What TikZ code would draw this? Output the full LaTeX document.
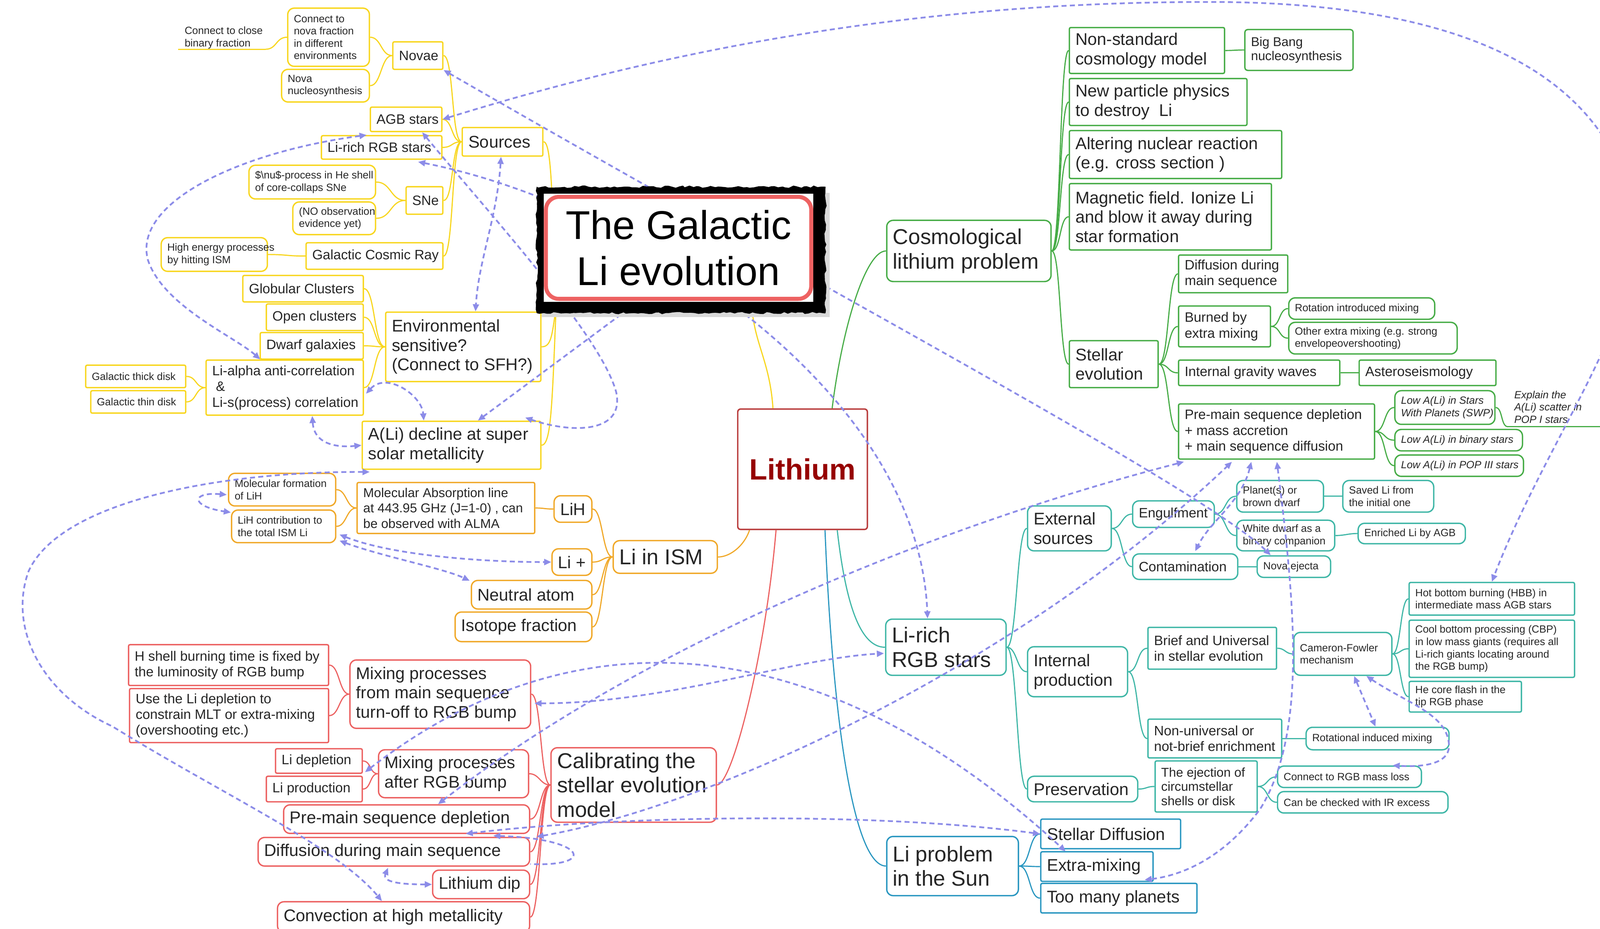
\documentclass[tikz,border=0pt]{standalone}
\usepackage{fontspec}
\setmainfont{Liberation Sans}
\usetikzlibrary{arrows.meta,calc,decorations.pathmorphing}
\pgfdeclarelayer{bg}
\pgfdeclarelayer{fg}
\pgfsetlayers{bg,main,fg}
\definecolor{cY}{RGB}{248,214,30}
\definecolor{cO}{RGB}{240,168,40}
\definecolor{cR}{RGB}{236,96,96}
\definecolor{cG}{RGB}{70,172,70}
\definecolor{cT}{RGB}{62,182,166}
\definecolor{cB}{RGB}{40,150,192}
\definecolor{cD}{RGB}{140,140,232}
\definecolor{txt}{RGB}{38,38,38}
\definecolor{lired}{RGB}{150,0,0}
\definecolor{liborder}{RGB}{185,60,60}
\definecolor{titlered}{RGB}{238,98,98}
\newcommand\fTi{\fontsize{7.3}{8.6}\selectfont}
\newcommand\fSm{\fontsize{8.9}{10}\selectfont}
\newcommand\fMe{\fontsize{9.5}{11}\selectfont}
\newcommand\fLa{\fontsize{11.8}{13.5}\selectfont}
\newcommand\fXl{\fontsize{15}{17}\selectfont}
\newcommand\mbx[7]{%
 \pgfmathsetmacro\bxw{(#5-#3)*0.71132}%
 \pgfmathsetmacro\bxh{(#6-#4)*0.71132}%
 \node[#2,minimum width=\bxw pt,minimum height=\bxh pt,inner sep=0pt] (#1) at ({(#3+#5)/2},{(#4+#6)/2}) {};%
 \node[#2,draw=none,fill=none,anchor=west,align=left,inner sep=0pt] at ($(#1.west)+(6,0)$) {#7};}
\newcommand\conR[4]{\draw[cn,#1] (#2) .. controls +(#4,0) and +(-#4,0) .. (#3);}
\newcommand\conL[4]{\draw[cn,#1] (#2) .. controls +(-#4,0) and +(#4,0) .. (#3);}
\tikzset{
 cn/.style={line width=0.8pt},
 bY/.style={draw=cY,line width=0.95pt,fill=white,text=txt,rounded corners=1pt},
 bO/.style={draw=cO,line width=0.95pt,fill=white,text=txt,rounded corners=1pt},
 bR/.style={draw=cR,line width=0.95pt,fill=white,text=txt,rounded corners=1pt},
 bG/.style={draw=cG,line width=0.95pt,fill=white,text=txt,rounded corners=1pt},
 bT/.style={draw=cT,line width=0.95pt,fill=white,text=txt,rounded corners=1pt},
 bB/.style={draw=cB,line width=0.95pt,fill=white,text=txt,rounded corners=1pt},
 rnd/.style={rounded corners=4.5pt},
 ft/.style={font=\fTi}, fti/.style={font=\fTi\itshape}, fs/.style={font=\fSm},
 fm/.style={font=\fMe}, fl/.style={font=\fLa}, fx/.style={font=\fXl},
 dsh/.style={draw=cD,line width=1.2pt,dash pattern=on 3.5pt off 2.3pt,
   arrows={Triangle[length=5pt,width=4.2pt]-Triangle[length=5pt,width=4.2pt]}},
}
\begin{document}
\begin{tikzpicture}[x=0.025cm,y=-0.025cm]
\useasboundingbox (0,0) rectangle (1568,910.6);
\clip (0,0) rectangle (1568,910.6);
\begin{pgfonlayer}{bg}
\fill[white] (0,0) rectangle (1568,910.6);
\end{pgfonlayer}

% ---------- Lithium ----------
\mbx{lithium}{draw=liborder,line width=1pt,rounded corners=2pt,fill=white}{723}{401}{850}{519}{}
\node[font=\fontsize{20.5}{24}\selectfont\bfseries,text=lired] at (lithium) {Lithium};

% ---------- yellow ----------
\mbx{cclose}{ft,text=txt}{175}{26}{260}{48}{Connect to close\\binary fraction}
\mbx{cnova}{bY,rnd,ft}{282}{8}{362}{65}{Connect to\\nova fraction\\in different\\environments}
\mbx{novanuc}{bY,rnd,ft}{276}{68}{362}{100}{Nova\\nucleosynthesis}
\mbx{novae}{bY,fm}{385}{41}{434}{68}{Novae}
\mbx{agb}{bY,fm}{363}{105}{433}{129}{AGB stars}
\mbx{lirgbY}{bY,fm}{315}{133}{433}{156}{Li-rich RGB stars}
\mbx{sources}{bY,fl}{453}{125}{532}{153}{Sources}
\mbx{nup}{bY,rnd,ft}{244}{162}{368}{195}{\$\textbackslash nu\$-process in He shell\\of core-collaps SNe}
\mbx{noobs}{bY,rnd,ft}{287}{198}{368}{230}{(NO observation\\evidence yet)}
\mbx{sne}{bY,fm}{398}{183}{434}{210}{SNe}
\mbx{hie}{bY,rnd,ft}{158}{233}{262}{266}{High energy processes\\by hitting ISM}
\mbx{gcr}{bY,fm}{300}{238}{434}{264}{Galactic Cosmic Ray}
\mbx{glob}{bY,fm}{238}{270}{356}{296}{Globular Clusters}
\mbx{open}{bY,fm}{261}{298}{356}{324}{Open clusters}
\mbx{dwarf}{bY,fm}{255}{326}{356}{352}{Dwarf galaxies}
\mbx{env}{bY,fl}{378}{306}{530}{374}{Environmental\\sensitive?\\(Connect to SFH?)}
\mbx{thick}{bY,ft}{84}{358}{182}{380}{Galactic thick disk}
\mbx{thin}{bY,ft}{89}{383}{182}{405}{Galactic thin disk}
\mbx{lialpha}{bY,fm}{202}{353}{356}{407}{Li-alpha anti-correlation\\\ \&\\Li-s(process) correlation}
\mbx{adecl}{bY,fl}{355}{413}{530}{460}{A(Li) decline at super\\solar metallicity}

% ---------- orange ----------
\mbx{liism}{bO,rnd,fx}{601}{530}{703}{562}{Li in ISM}
\mbx{lih}{bO,rnd,fl}{543}{486}{580}{512}{LiH}
\mbx{liplus}{bO,rnd,fl}{541}{538}{580}{564}{Li +}
\mbx{neutral}{bO,rnd,fl}{462}{569}{580}{597}{Neutral atom}
\mbx{isotope}{bO,rnd,fl}{446}{600}{580}{629}{Isotope fraction}
\mbx{molabs}{bO,font=\fontsize{9}{10.8}\selectfont}{350}{473}{524}{523}{Molecular Absorption line\\at 443.95 GHz (J=1-0) , can\\be observed with ALMA}
\mbx{molform}{bO,rnd,ft}{224}{464}{329}{496}{Molecular formation\\of LiH}
\mbx{lihcont}{bO,rnd,ft}{227}{500}{329}{532}{LiH contribution to\\the total ISM Li}

% ---------- red ----------
\mbx{calib}{bR,rnd,fx}{540}{733}{702}{806}{Calibrating the\\stellar evolution\\model}
\mbx{mix1}{bR,rnd,fl}{343}{647}{520}{714}{Mixing processes\\from main sequence\\turn-off to RGB bump}
\mbx{hshell}{bR,fm}{126}{632}{322}{672}{H shell burning time is fixed by\\the luminosity of RGB bump}
\mbx{useli}{bR,fm}{127}{675}{322}{728}{Use the Li depletion to\\constrain MLT or extra-mixing\\(overshooting etc.)}
\mbx{mix2}{bR,rnd,fl}{371}{735}{518}{782}{Mixing processes\\after RGB bump}
\mbx{lidep}{bR,fm}{270}{734}{355}{758}{Li depletion}
\mbx{liprod}{bR,fm}{261}{761}{355}{786}{Li production}
\mbx{pmsred}{bR,rnd,fl}{278}{789}{519}{817}{Pre-main sequence depletion}
\mbx{diffred}{bR,rnd,fl}{253}{821}{519}{849}{Diffusion during main sequence}
\mbx{lidip}{bR,rnd,fl}{424}{853}{519}{881}{Lithium dip}
\mbx{conv}{bR,rnd,fl}{272}{884}{519}{914}{Convection at high metallicity}

% ---------- green ----------
\mbx{cosmo}{bG,rnd,fx}{869}{216}{1030}{276}{Cosmological\\lithium problem}
\mbx{nonstd}{bG,fl}{1048}{27}{1200}{72}{Non-standard\\cosmology model}
\mbx{bbn}{bG,fs,rounded corners=2pt}{1220}{29}{1326}{69}{Big Bang\\nucleosynthesis}
\mbx{newpart}{bG,fl}{1048}{77}{1222}{123}{New particle physics\\to destroy\hspace{0.55em}Li}
\mbx{alter}{bG,fl}{1048}{128}{1256}{175}{Altering nuclear reaction\\(e.g. cross section )}
\mbx{magn}{bG,fl}{1048}{180}{1246}{245}{Magnetic field. Ionize Li\\and blow it away during\\star formation}
\mbx{stellev}{bG,fl}{1048}{334}{1135}{380}{Stellar\\evolution}
\mbx{diffgrn}{bG,fm}{1155}{250}{1262}{287}{Diffusion during\\main sequence}
\mbx{burned}{bG,fm}{1155}{300}{1245}{340}{Burned by\\extra mixing}
\mbx{rotint}{bG,rnd,ft}{1263}{292}{1406}{313}{Rotation introduced mixing}
\mbx{otherx}{bG,rnd,ft}{1263}{316}{1428}{347}{Other extra mixing (e.g. strong\\envelopeovershooting)}
\mbx{igw}{bG,fm}{1155}{353}{1313}{378}{Internal gravity waves}
\mbx{astero}{bG,fm}{1332}{353}{1466}{378}{Asteroseismology}
\mbx{pmsgrn}{bG,fm}{1155}{396}{1347}{450}{Pre-main sequence depletion\\+ mass accretion\\+ main sequence diffusion}
\mbx{swp}{bG,rnd,fti}{1367}{383}{1465}{416}{Low A(Li) in Stars\\With Planets (SWP)}
\mbx{binary}{bG,rnd,fti}{1367}{421}{1492}{442}{Low A(Li) in binary stars}
\mbx{pop3}{bG,rnd,fti}{1367}{446}{1493}{467}{Low A(Li) in POP III stars}
\mbx{explain}{fti,text=txt}{1478}{380}{1570}{418}{Explain the\\A(Li) scatter in\\POP I stars}

% ---------- teal ----------
\mbx{lirgbT}{bT,rnd,fx}{868}{607}{986}{662}{Li-rich\\RGB stars}
\mbx{ext}{bT,rnd,fl}{1007}{496}{1089}{540}{External\\sources}
\mbx{intp}{bT,rnd,fl}{1007}{634}{1105}{683}{Internal\\production}
\mbx{pres}{bT,rnd,fl}{1007}{761}{1115}{786}{Preservation}
\mbx{engulf}{bT,rnd,fm}{1110}{491}{1190}{517}{Engulfment}
\mbx{contam}{bT,rnd,fm}{1110}{543}{1213}{568}{Contamination}
\mbx{planet}{bT,rnd,ft}{1212}{471}{1297}{502}{Planet(s) or\\brown dwarf}
\mbx{wd}{bT,rnd,ft}{1212}{510}{1308}{540}{White dwarf as a\\binary companion}
\mbx{saved}{bT,rnd,ft}{1316}{471}{1405}{502}{Saved Li from\\the initial one}
\mbx{enrich}{bT,rnd,ft}{1331}{513}{1436}{533}{Enriched Li by AGB}
\mbx{novaej}{bT,rnd,ft}{1232}{545}{1304}{566}{Nova ejecta}
\mbx{brief}{bT,fm}{1125}{615}{1251}{656}{Brief and Universal\\in stellar evolution}
\mbx{cf}{bT,rnd,ft}{1268}{620}{1364}{662}{Cameron-Fowler\\mechanism}
\mbx{hbb}{bT,ft}{1381}{571}{1543}{603}{Hot bottom burning (HBB) in\\intermediate mass AGB stars}
\mbx{cbp}{bT,ft}{1381}{608}{1543}{664}{Cool bottom processing (CBP)\\in low mass giants (requires all\\Li-rich giants locating around\\the RGB bump)}
\mbx{hecore}{bT,ft}{1381}{668}{1491}{698}{He core flash in the\\tip RGB phase}
\mbx{nonuni}{bT,fm}{1125}{705}{1256}{743}{Non-universal or\\not-brief enrichment}
\mbx{rotind}{bT,rnd,ft}{1280}{713}{1420}{735}{Rotational induced mixing}
\mbx{eject}{bT,fs}{1132}{746}{1232}{796}{The ejection of\\circumstellar\\shells or disk}
\mbx{rgbml}{bT,rnd,ft}{1252}{751}{1393}{772}{Connect to RGB mass loss}
\mbx{irex}{bT,rnd,ft}{1252}{776}{1419}{797}{Can be checked with IR excess}

% ---------- blue ----------
\mbx{lisun}{bB,rnd,fx}{869}{820}{998}{878}{Li problem\\in the Sun}
\mbx{stdiff}{bB,fl}{1020}{803}{1157}{832}{Stellar Diffusion}
\mbx{xmix}{bB,fl}{1020}{835}{1130}{864}{Extra-mixing}
\mbx{toomany}{bB,fl}{1020}{866}{1173}{895}{Too many planets}

% ---------- solid connectors (behind) ----------
\begin{pgfonlayer}{bg}
\coordinate (ttl) at (737,303);
\coordinate (yroot) at (545,300);
\draw[cn,cY] ($(lithium.north)+(-29,0)$) .. controls +(-3,-45) and +(3,35) .. (ttl);
\draw[cn,cY] (yroot) .. controls (541,200) and (541,139) .. (sources.east);
\draw[cn,cY] (yroot) .. controls (541,330) and (540,340) .. (env.east);
\draw[cn,cY] (yroot) .. controls (541,400) and (540,436) .. (adecl.east);
\conL{cY}{sources.west}{novae.east}{10}
\conL{cY}{sources.west}{agb.east}{10}
\conL{cY}{sources.west}{lirgbY.east}{10}
\conL{cY}{sources.west}{sne.east}{10}
\conL{cY}{sources.west}{gcr.east}{10}
\conL{cY}{novae.west}{cnova.east}{11}
\conL{cY}{novae.west}{novanuc.east}{11}
\conL{cY}{cnova.west}{cclose.south east}{11}
\draw[cn,cY] (cclose.south west) -- (cclose.south east);
\conL{cY}{sne.west}{nup.east}{15}
\conL{cY}{sne.west}{noobs.east}{15}
\conL{cY}{gcr.west}{hie.east}{19}
\conL{cY}{env.west}{glob.east}{11}
\conL{cY}{env.west}{open.east}{11}
\conL{cY}{env.west}{dwarf.east}{11}
\conL{cY}{env.west}{lialpha.east}{11}
\conL{cY}{lialpha.west}{thick.east}{10}
\conL{cY}{lialpha.west}{thin.east}{10}
% orange
\draw[cn,cO] ($(lithium.south)+(-52,0)$) .. controls +(-5,15) and +(12,0) .. (liism.east);
\conL{cO}{liism.west}{lih.east}{10}
\conL{cO}{liism.west}{liplus.east}{10}
\conL{cO}{liism.west}{neutral.east}{10}
\conL{cO}{liism.west}{isotope.east}{10}
\conL{cO}{lih.west}{molabs.east}{9}
\conL{cO}{molabs.west}{molform.east}{10}
\conL{cO}{molabs.west}{lihcont.east}{10}
% red
\draw[cn,cR] ($(lithium.south)+(-26,0)$) .. controls +(-10,120) and +(15,0) .. (calib.east);
\conL{cR}{calib.west}{mix1.east}{10}
\conL{cR}{calib.west}{mix2.east}{10}
\conL{cR}{calib.west}{pmsred.east}{10}
\conL{cR}{calib.west}{diffred.east}{10}
\conL{cR}{calib.west}{lidip.east}{10}
\conL{cR}{calib.west}{conv.east}{10}
\conL{cR}{mix1.west}{hshell.east}{10}
\conL{cR}{mix1.west}{useli.east}{10}
\conL{cR}{mix2.west}{lidep.east}{8}
\conL{cR}{mix2.west}{liprod.east}{8}
% green
\draw[cn,cG] ($(lithium.north)+(29,0)$) .. controls +(10,-80) and +(-20,0) .. (cosmo.west);
\conR{cG}{cosmo.east}{nonstd.west}{9}
\conR{cG}{cosmo.east}{newpart.west}{9}
\conR{cG}{cosmo.east}{alter.west}{9}
\conR{cG}{cosmo.east}{magn.west}{9}
\conR{cG}{cosmo.east}{stellev.west}{9}
\conR{cG}{nonstd.east}{bbn.west}{10}
\conR{cG}{stellev.east}{diffgrn.west}{10}
\conR{cG}{stellev.east}{burned.west}{10}
\conR{cG}{stellev.east}{igw.west}{10}
\conR{cG}{stellev.east}{pmsgrn.west}{10}
\conR{cG}{burned.east}{rotint.west}{9}
\conR{cG}{burned.east}{otherx.west}{9}
\conR{cG}{igw.east}{astero.west}{9}
\conR{cG}{pmsgrn.east}{swp.west}{10}
\conR{cG}{pmsgrn.east}{binary.west}{10}
\conR{cG}{pmsgrn.east}{pop3.west}{10}
\conR{cG}{swp.east}{explain.south west}{7}
\draw[cn,cG] (explain.south west) -- (explain.south east);
% teal
\draw[cn,cT] ($(lithium.south)+(34,0)$) .. controls +(8,70) and +(-25,0) .. (lirgbT.west);
\conR{cT}{lirgbT.east}{ext.west}{10}
\conR{cT}{lirgbT.east}{intp.west}{10}
\conR{cT}{lirgbT.east}{pres.west}{10}
\conR{cT}{ext.east}{engulf.west}{10}
\conR{cT}{ext.east}{contam.west}{10}
\conR{cT}{engulf.east}{planet.west}{11}
\conR{cT}{engulf.east}{wd.west}{11}
\conR{cT}{planet.east}{saved.west}{9}
\conR{cT}{wd.east}{enrich.west}{9}
\conR{cT}{contam.east}{novaej.west}{9}
\conR{cT}{intp.east}{brief.west}{10}
\conR{cT}{intp.east}{nonuni.west}{10}
\conR{cT}{brief.east}{cf.west}{8}
\conR{cT}{cf.east}{hbb.west}{8}
\conR{cT}{cf.east}{cbp.west}{8}
\conR{cT}{cf.east}{hecore.west}{8}
\conR{cT}{nonuni.east}{rotind.west}{10}
\conR{cT}{pres.east}{eject.west}{8}
\conR{cT}{eject.east}{rgbml.west}{10}
\conR{cT}{eject.east}{irex.west}{10}
% blue
\draw[cn,cB] ($(lithium.south)+(22,0)$) .. controls +(8,200) and +(-30,0) .. (lisun.west);
\conR{cB}{lisun.east}{stdiff.west}{11}
\conR{cB}{lisun.east}{xmix.west}{11}
\conR{cB}{lisun.east}{toomany.west}{11}
\end{pgfonlayer}

% ---------- dashed cross links ----------
\draw[dsh] (agb.east) .. controls (650,50) and (900,0) .. (1200,2) .. controls (1450,5) and (1570,80) .. (1600,200) .. controls (1620,300) and (1520,420) .. (hbb.north);
\draw[dsh] (novae.south east) .. controls (800,280) and (1180,480) .. ($(novaej.north west)+(14,0)$);
\draw[dsh] ($(lirgbY.south east)+(-24,2)$) .. controls (620,200) and (900,380) .. ($(lirgbT.north)+(-18,0)$);
\draw[dsh] ($(agb.south east)+(-20,0)$) .. controls (480,210) and (590,330) .. (604,385) .. controls (612,425) and (560,425) .. ($(adecl.north east)+(-16,-3)$);
\draw[dsh] ($(sources.south)+(-1.5,0)$) .. controls +(-4,60) and +(3,-50) .. ($(env.north)+(12,0)$);
\draw[dsh] ($(lirgbY.north west)+(45,0)$) .. controls (230,150) and (130,200) .. (145,255) .. controls (160,300) and (230,330) .. ($(lialpha.north)+(-24,0)$);
\draw[dsh] ($(lialpha.south)+(27,0)$) .. controls +(2,30) and +(-20,2) .. (adecl.west);
\draw[dsh] ($(lialpha.east)+(2,6)$) .. controls +(20,-22) and +(-2,-25) .. ($(adecl.north west)+(61,0)$);
\draw[dsh] (640,285) -- ($(adecl.north west)+(114,0)$);
\draw[dsh] ($(adecl.south west)+(8,2)$) .. controls (220,462) and (60,490) .. (28,560) .. controls (8,615) and (40,680) .. (110,712) .. controls (220,780) and (330,830) .. ($(conv.north west)+(103,0)$);
\draw[dsh] ($(molform.west)+(-1,5)$) .. controls +(-35,-3) and +(-40,-6) .. ($(lihcont.north west)+(0,3)$);
\draw[dsh] ($(lihcont.east)+(3,8)$) .. controls +(50,20) and +(-70,0) .. (liplus.west);
\draw[dsh] ($(lihcont.east)+(3,14)$) .. controls +(40,15) and +(-25,-12) .. ($(neutral.north west)+(-1,1)$);
\draw[dsh] ($(mix1.east)+(3,9)$) .. controls +(130,0) and +(-90,5) .. ($(lirgbT.west)+(-1,6)$);
\draw[dsh] ($(pmsred.north west)+(152,0)$) .. controls (620,640) and (900,520) .. ($(pmsgrn.south west)+(6,2)$);
\draw[dsh] ($(lidep.east)+(2,11)$) .. controls (560,600) and (800,610) .. ($(stdiff.south west)+(25,2)$);
\draw[dsh] ($(diffred.north west)+(204,-3)$) .. controls (600,800) and (850,795) .. (stdiff.west);
\draw[dsh] ($(diffred.north east)+(6,0)$) .. controls (700,790) and (1000,650) .. ($(pmsgrn.south west)+(53,2)$);
\draw[dsh,arrows={Triangle[length=5pt,width=4.2pt]-}] ($(diffred.north west)+(231,-1)$) .. controls (575,822) and (585,850) .. ($(diffred.east)+(0,12)$);
\draw[dsh] (lidip.west) .. controls +(-40,0) and +(-5,12) .. ($(diffred.south west)+(128,1)$);
\draw[dsh] ($(pmsgrn.south west)+(72,2)$) .. controls +(-10,40) and +(15,-30) .. ($(contam.north west)+(62,-2)$);
\draw[dsh] ($(pmsgrn.south west)+(97,2)$) .. controls (1270,600) and (1280,720) .. (1235,793) .. controls (1200,840) and (1160,858) .. ($(xmix.east)+(-9,13)$);
\draw[dsh] ($(cf.south)+(11,0)$) -- ($(rotind.north)+(-2,0)$);
\draw[dsh] ($(cf.south)+(23,0)$) .. controls (1380,690) and (1418,700) .. (1420,730) .. controls (1421,750) and (1392,752) .. ($(rgbml.north east)+(-29,0)$);

% ---------- title ----------
\begin{pgfonlayer}{fg}
\fill[black!15] (531,189) rectangle (813,311);
\fill[black,decorate,decoration={random steps,segment length=2.5pt,amplitude=0.8pt}] (526,183) rectangle (809,307);
\fill[white] (533,190) rectangle (797,296);
\node[draw=titlered,line width=2.8pt,rounded corners=9pt,fill=white,minimum width=184.9pt,minimum height=71.1pt,align=center,inner sep=0pt,font=\fontsize{28}{32}\selectfont] (title) at (665,243) {The Galactic\\Li evolution};
\end{pgfonlayer}
\end{tikzpicture}
\end{document}
